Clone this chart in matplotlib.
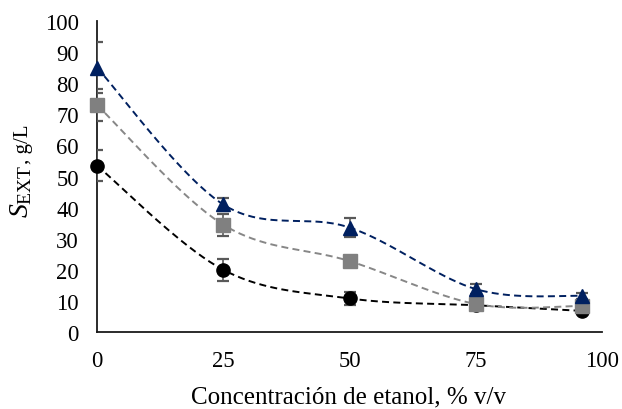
import numpy as np
import matplotlib
matplotlib.use("Agg")
import matplotlib.pyplot as plt

plt.rcParams['font.family'] = ['Liberation Serif', 'DejaVu Serif']
plt.rcParams['mathtext.fontset'] = 'custom'
plt.rcParams['mathtext.rm'] = 'Liberation Serif'
plt.rcParams['mathtext.it'] = 'Liberation Serif:italic'

# Data
etanol = [0, 25, 50, 75, 96]
circulo = [53.5, 20.0, 10.8, 8.6, 6.8]
circulo_err = [5.0, 3.5, 2.0, 0.8, 0.8]
cuadrado = [73.0, 34.5, 22.8, 9.0, 8.4]
cuadrado_err = [5.0, 3.5, 1.0, 0.8, 0.8]
triangulo = [85.0, 41.0, 33.6, 13.8, 11.6]
triangulo_err = [8.2, 2.2, 3.0, 1.5, 1.0]

x_ticks = [0, 25, 50, 75, 100]
y_ticks = list(range(0, 101, 10))


def excel_smooth(xs, ys, n=40):
    xs = np.asarray(xs, float)
    ys = np.asarray(ys, float)
    P = np.column_stack([xs, ys])
    P = np.vstack([P[0], P, P[-1]])
    out = []
    for i in range(1, len(P) - 2):
        p0, p1, p2, p3 = P[i - 1], P[i], P[i + 1], P[i + 2]
        c1 = p1 + (p2 - p0) / 6.0
        c2 = p2 - (p3 - p1) / 6.0
        t = np.linspace(0, 1, n)[:, None]
        seg = ((1 - t) ** 3) * p1 + 3 * ((1 - t) ** 2) * t * c1 + 3 * (1 - t) * t ** 2 * c2 + t ** 3 * p2
        out.append(seg if i == 1 else seg[1:])
    s = np.vstack(out)
    return s[:, 0], s[:, 1]


W, H = 622, 410
fig = plt.figure(figsize=(W / 100, H / 100), dpi=100)
ax = fig.add_axes([97 / W, 77 / H, 505 / W, 311 / H])

series = [
    (circulo, circulo_err, '#000000', '#000000', 'o', 9.5),
    (cuadrado, cuadrado_err, '#878787', '#808080', 's', 9.5),
    (triangulo, triangulo_err, '#002060', '#002060', '^', 10.5),
]

for ys, err, lc, mc, mk, ms in series:
    sx, sy = excel_smooth(etanol, ys)
    line, = ax.plot(sx, sy, color=lc, lw=1.4, zorder=2)
    line.set_dashes([3.6, 2.2])
    ax.errorbar(etanol, ys, yerr=err, fmt='none', ecolor='#595959',
                elinewidth=1.2, capsize=4.3, capthick=1.6, zorder=3)
    ax.plot(etanol, ys, linestyle='none', marker=mk, markersize=ms,
            markerfacecolor=mc, markeredgecolor=mc, zorder=4, clip_on=False)

ax.set_xlim(0, 100)
ax.set_ylim(0, 100)
ax.set_xticks(x_ticks)
ax.set_yticks(y_ticks)
ax.tick_params(axis='both', length=0, labelsize=16.3)
ax.tick_params(axis='y', pad=13)
ax.tick_params(axis='x', pad=13)
for side in ['top', 'right']:
    ax.spines[side].set_visible(False)
for side in ['left', 'bottom']:
    ax.spines[side].set_linewidth(1.3)
    ax.spines[side].set_color('#1a1a1a')

ax.set_xlabel('Concentración de etanol, % v/v', fontsize=18)
ax.xaxis.label.set_va('baseline')
ax.xaxis.set_label_coords(0.499, (333 - 403) / 311)

# y label: large italic S with subscript, then ", g/L" smaller
base_x = 28 / W
start_y = 192 / H
t1 = fig.text(base_x, start_y, r'$\mathit{S}_{\mathrm{EXT}}$', fontsize=20, rotation=90,
              rotation_mode='anchor', ha='left', va='baseline')
fig.canvas.draw()
r = fig.canvas.get_renderer()
bb = t1.get_window_extent(renderer=r)
fig.text(base_x, (bb.y1 + 1) / H, ', g/L', fontsize=15, rotation=90,
         rotation_mode='anchor', ha='left', va='baseline')

fig.savefig('out.png', dpi=100)
